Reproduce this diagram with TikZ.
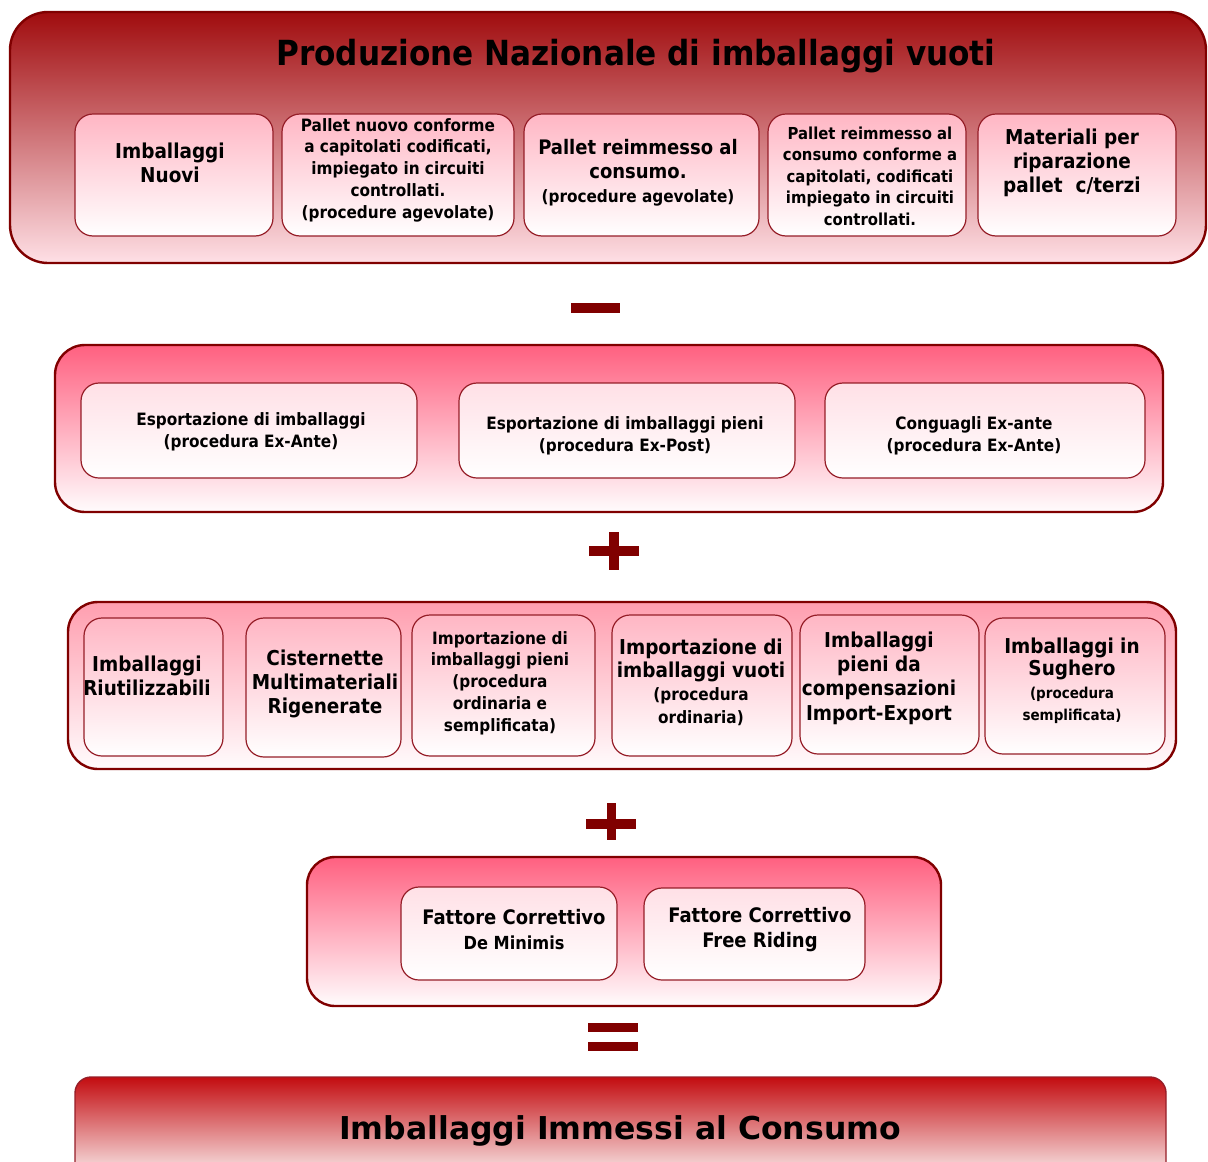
\documentclass[tikz,border=0pt]{standalone}
\usepackage{fontspec}
\newfontfamily\cfb{DejaVu Sans Condensed Bold}
\newfontfamily\vb{DejaVu Sans Bold}
\newcommand\myfs[2]{\fontsize{#1}{#2}\selectfont}
\definecolor{edge}{RGB}{128,0,0}
\definecolor{boxedge}{RGB}{150,30,40}
\definecolor{signred}{RGB}{128,0,0}
\definecolor{p1top}{RGB}{160,12,14}
\definecolor{p1bot}{RGB}{255,224,230}
\definecolor{p2top}{RGB}{255,96,128}
\definecolor{p2bot}{RGB}{255,252,253}
\definecolor{p3top}{RGB}{255,158,175}
\definecolor{p5top}{RGB}{195,12,16}
\definecolor{p5bot}{RGB}{255,255,255}
\definecolor{bxtopA}{RGB}{255,182,196}
\definecolor{bxtopB}{RGB}{255,224,230}
\begin{document}
\begin{tikzpicture}[x=1pt,y=-1pt,
  every node/.style={inner sep=0pt,outer sep=0pt},
  panel/.style={draw=edge,line width=2.4pt,rounded corners=#1},
  box/.style={draw=boxedge,line width=1.2pt,rounded corners=18pt,bottom color=white},
  boxA/.style={box,top color=bxtopA},
  boxB/.style={box,top color=bxtopB},
  sign/.style={fill=signred},
  lbl/.style={align=center,text=black,font=\cfb},
]
\clip (0,0) rectangle (1208,1162);
\fill[white] (0,0) rectangle (1208,1162);

% Panel 1
\node[panel=38pt,top color=p1top,bottom color=p1bot,minimum width=1196pt,minimum height=251pt] (P1) at (608,137.5) {};
\node[lbl,font=\cfb\myfs{34.6}{38}] (T1) at (636,56) {Produzione Nazionale di imballaggi vuoti};
\node[boxA,minimum width=198pt,minimum height=122pt] (b11) at (174,175) {};
\node[boxA,minimum width=232pt,minimum height=122pt] (b12) at (398,175) {};
\node[boxA,minimum width=235pt,minimum height=122pt] (b13) at (641.5,175) {};
\node[boxA,minimum width=198pt,minimum height=122pt] (b14) at (867,175) {};
\node[boxA,minimum width=198pt,minimum height=122pt] (b15) at (1077,175) {};
\node[lbl,font=\cfb\myfs{20.5}{24}] (t11) at (170,163) {Imballaggi\\Nuovi};
\node[lbl,font=\cfb\myfs{17}{21.7}] (t12) at (398,170) {Pallet nuovo conforme\\a capitolati codificati,\\impiegato in circuiti\\controllati.\\(procedure agevolate)};
\node[lbl,font=\cfb\myfs{20}{24}] (t13) at (638,173) {Pallet reimmesso al\\consumo.\\{\myfs{17}{20}(procedure agevolate)}};
\node[lbl,font=\cfb\myfs{16.5}{21.5}] (t14) at (870,176) {Pallet reimmesso al\\consumo conforme a\\capitolati, codificati\\impiegato in circuiti\\controllati.};
\node[lbl,font=\cfb\myfs{20.5}{24}] (t15) at (1072,163) {Materiali per\\riparazione\\pallet\ \ c/terzi};

% minus
\fill[sign] (571,303) rectangle (620,313);

% Panel 2
\node[panel=30pt,top color=p2top,bottom color=p2bot,minimum width=1108pt,minimum height=167pt] (P2) at (609,428.5) {};
\node[boxB,minimum width=336pt,minimum height=95pt] (b21) at (249,430.5) {};
\node[boxB,minimum width=336pt,minimum height=95pt] (b22) at (627,430.5) {};
\node[boxB,minimum width=320pt,minimum height=95pt] (b23) at (985,430.5) {};
\node[lbl,font=\cfb\myfs{17}{22}] (t21) at (251,432) {Esportazione di imballaggi\\(procedura Ex-Ante)};
\node[lbl,font=\cfb\myfs{17}{22}] (t22) at (625,436) {Esportazione di imballaggi pieni\\(procedura Ex-Post)};
\node[lbl,font=\cfb\myfs{17}{22}] (t23) at (974,436) {Conguagli Ex-ante\\(procedura Ex-Ante)};

% plus 1
\fill[sign] (589,546) rectangle (639,556);
\fill[sign] (609,532) rectangle (619,570);

% Panel 3
\node[panel=30pt,top color=p3top,bottom color=p2bot,minimum width=1108pt,minimum height=167pt] (P3) at (622,685.5) {};
\node[boxA,minimum width=139pt,minimum height=138pt] (b31) at (153.5,687) {};
\node[boxA,minimum width=155pt,minimum height=139pt] (b32) at (323.5,687.5) {};
\node[boxA,minimum width=183pt,minimum height=141pt] (b33) at (503.5,685.5) {};
\node[boxA,minimum width=180pt,minimum height=141pt] (b34) at (702,685.5) {};
\node[boxA,minimum width=179pt,minimum height=139pt] (b35) at (889.5,684.5) {};
\node[boxA,minimum width=180pt,minimum height=136pt] (b36) at (1075,686) {};
\node[lbl,font=\cfb\myfs{20.5}{24}] (t31) at (147,676) {Imballaggi\\Riutilizzabili};
\node[lbl,font=\cfb\myfs{20.5}{24}] (t32) at (325,684) {Cisternette\\Multimateriali\\Rigenerate};
\node[lbl,font=\cfb\myfs{17}{21.7}] (t33) at (500,683) {Importazione di\\imballaggi pieni\\(procedura\\ordinaria e\\semplificata)};
\node[lbl,font=\cfb\myfs{20.5}{23}] (t34) at (701,682) {Importazione di\\imballaggi vuoti\\{\myfs{17}{20}(procedura}\\{\myfs{17}{20}ordinaria)}};
\node[lbl,font=\cfb\myfs{20.5}{24.3}] (t35) at (879,678) {Imballaggi\\pieni da\\compensazioni\\Import-Export};
\node[lbl,font=\cfb\myfs{20.5}{22.5}] (t36) at (1072,681) {Imballaggi in\\Sughero\\{\myfs{15}{18}(procedura}\\{\myfs{15}{18}semplificata)}};

% plus 2
\fill[sign] (586,819) rectangle (636,829);
\fill[sign] (607,803) rectangle (616,840);

% Panel 4
\node[panel=28pt,top color=p2top,bottom color=p2bot,minimum width=634pt,minimum height=149pt] (P4) at (624,931.5) {};
\node[boxB,minimum width=216pt,minimum height=93pt] (b41) at (509,933.5) {};
\node[boxB,minimum width=221pt,minimum height=92pt] (b42) at (754.5,934) {};
\node[lbl,font=\cfb\myfs{20}{25}] (t41) at (514,930) {Fattore Correttivo\\{\myfs{18}{22}De Minimis}};
\node[lbl,font=\cfb\myfs{20}{25}] (t42) at (760,930) {Fattore Correttivo\\Free Riding};

% equals
\fill[sign] (588,1023) rectangle (638,1032);
\fill[sign] (588,1042) rectangle (638,1051);

% Panel 5
\node[draw=boxedge,line width=1.4pt,rounded corners=16pt,top color=p5top,bottom color=p5bot,minimum width=1091pt,minimum height=108pt] (P5) at (620.5,1131) {};
\node[lbl,font=\vb\myfs{31.5}{36}] (T5) at (620,1131) {Imballaggi Immessi al Consumo};
\end{tikzpicture}
\end{document}
